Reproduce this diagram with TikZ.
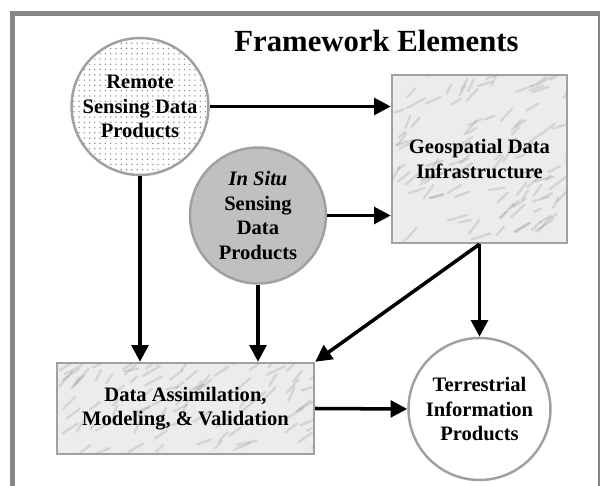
\documentclass[tikz,border=0pt]{standalone}
\usepackage{fontspec}
\setmainfont{Liberation Serif}
\usetikzlibrary{arrows.meta,patterns.meta}

\definecolor{framegray}{HTML}{868686}
\definecolor{rimgray}{HTML}{A0A0A0}
\definecolor{situgray}{HTML}{C0C0C0}
\definecolor{marblegray}{HTML}{ECECEC}

\tikzset{
  elem/.style={draw=rimgray, line width=1.4pt, align=center, inner sep=0pt,
    font=\fontsize{11.7}{13.9}\selectfont\bfseries},
  disc/.style={elem, circle},
  streak/.style={draw=gray, line width=1.3pt, line cap=round, opacity=0.22},
  block/.style={elem, rectangle, fill=marblegray, path picture={
      \foreach \k in {1,...,150}
        \draw[streak] ([xshift=rnd*5.2cm, yshift=rnd*3.4cm]path picture bounding box.south west)
          -- ++(25+rnd*25:0.1cm+rnd*0.35cm);
    }},
  flow/.style={-{Triangle[length=9.5pt,width=9.5pt]}, line width=2pt},
}

\begin{document}
\begin{tikzpicture}[x=0.02cm,y=-0.02cm]
  \useasboundingbox (0,0) rectangle (600,486);
  % frame
  \draw[framegray, line width=2.85pt] (12.5,486) -- (12.5,13.3) -- (600,13.3);
  \draw[framegray, line width=0.8pt] (599,16) -- (599,486);

  \node[font=\fontsize{17.5}{20}\selectfont\bfseries, anchor=base] (title) at (376.5,52) {Framework Elements};

  % elements
  \node[disc, minimum size=2.74cm, pattern={Dots[distance=3pt,radius=0.45pt]}, pattern color=gray!90]
    (remote) at (140,106.5) {Remote\\Sensing Data\\Products};
  \node[disc, minimum size=2.72cm, fill=situgray]
    (insitu) at (258,215.5) {\textit{In Situ}\\Sensing\\Data\\Products};
  \node[block, minimum width=3.5cm, minimum height=3.36cm]
    (geo) at (479.5,159) {Geospatial Data\\Infrastructure};
  \node[block, minimum width=5.14cm, minimum height=1.82cm]
    (assim) at (185.5,408.5) {Data Assimilation,\\Modeling, \& Validation};
  \node[disc, minimum size=2.84cm]
    (terr) at (479.5,409) {Terrestrial\\Information\\Products};

  % flows
  \draw[flow] (remote.east) -- (remote.east -| geo.west);
  \draw[flow] (insitu.east) -- (insitu.east -| geo.west);
  \draw[flow] (remote.south) -- (remote.south |- assim.north);
  \draw[flow] (insitu.south) -- (insitu.south |- assim.north);
  \draw[flow] (geo.south) -- (assim.north east);
  \draw[flow] (geo.south) -- (terr.north);
  \draw[flow] (assim.east) -- (terr.west);
\end{tikzpicture}
\end{document}
